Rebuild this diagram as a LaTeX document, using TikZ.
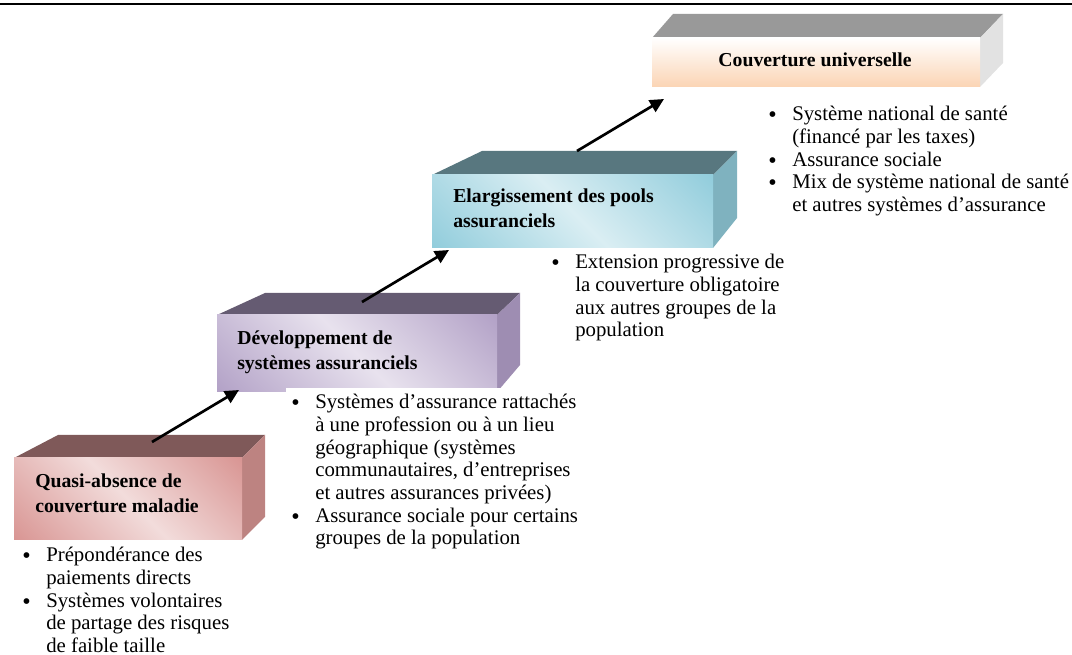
\documentclass[tikz,border=0pt]{standalone}
\usepackage{fontspec}
\setmainfont{Liberation Serif}
\usetikzlibrary{arrows.meta}
% Couleurs des blocs
\definecolor{roseC}{HTML}{F2DCDB}
\definecolor{roseF}{HTML}{D99694}
\definecolor{roseH}{HTML}{7F5959}
\definecolor{roseD}{HTML}{BD8381}
\definecolor{violetC}{HTML}{E8E2EE}
\definecolor{violetF}{HTML}{B3A2C7}
\definecolor{violetH}{HTML}{655B72}
\definecolor{violetD}{HTML}{9E8DB2}
\definecolor{bleuC}{HTML}{DAEEF3}
\definecolor{bleuF}{HTML}{92CDDC}
\definecolor{bleuH}{HTML}{58777F}
\definecolor{bleuD}{HTML}{7FB2BF}
\definecolor{grisH}{HTML}{999999}
\definecolor{grisD}{HTML}{E2E2E2}
\definecolor{peche}{HTML}{FBD4B4}
% Degrades des faces avant
\pgfdeclarehorizontalshading{rose}{100bp}{color(0bp)=(roseF); color(15bp)=(roseF); color(50bp)=(roseC); color(85bp)=(roseF); color(100bp)=(roseF)}
\pgfdeclarehorizontalshading{violet}{100bp}{color(0bp)=(violetF); color(15bp)=(violetF); color(50bp)=(violetC); color(85bp)=(violetF); color(100bp)=(violetF)}
\pgfdeclarehorizontalshading{bleu}{100bp}{color(0bp)=(bleuF); color(15bp)=(bleuF); color(50bp)=(bleuC); color(85bp)=(bleuF); color(100bp)=(bleuF)}
\newcommand{\puce}{\raisebox{-1.3pt}{\fontsize{18}{17}\selectfont\textbullet}}
\begin{document}
\begin{tikzpicture}[x=0.75pt, y=-0.75pt,
  titre/.style={font=\bfseries\fontsize{14.8}{18.75}\selectfont, inner sep=0pt, anchor=base west},
  puces/.style={font=\fontsize{15.6}{17}\selectfont, inner sep=0pt, anchor=base west},
  fleche/.style={line width=2pt, -{Triangle[length=10.5pt, width=10pt]}}]
  \useasboundingbox (0,0) rectangle (1072,655);
  % Filet du haut
  \draw[line width=1.6pt] (0,4) -- (1072,4);
  % Bloc 1 - quasi-absence
  \fill[roseH] (14,458) -- (58,435) -- (265,435) -- (242,458) -- cycle;
  \fill[roseD] (242,458) -- (265,435) -- (265,517) -- (242,540) -- cycle;
  \shade[shading=rose, shading angle=45] (14,458) rectangle (242,540);
  % Bloc 2 - developpement
  \fill[violetH] (217,315) -- (265,293) -- (520,293) -- (497,315) -- cycle;
  \fill[violetD] (497,315) -- (520,293) -- (520,365) -- (497,392) -- cycle;
  \shade[shading=violet, shading angle=45] (217,315) rectangle (497,392);
  % Bloc 3 - elargissement
  \fill[bleuH] (432,175) -- (482,151) -- (737,151) -- (713,175) -- cycle;
  \fill[bleuD] (713,175) -- (737,151) -- (737,218) -- (713,248) -- cycle;
  \shade[shading=bleu, shading angle=45] (432,175) rectangle (713,248);
  % Bloc 4 - couverture universelle
  \fill[grisH] (652,38) -- (673,14) -- (1003,14) -- (980,38) -- cycle;
  \fill[grisD] (980,38) -- (1003,14) -- (1003,63) -- (980,87) -- cycle;
  \shade[top color=white, bottom color=peche] (652,38) rectangle (980,87);
  % Titres
  \node[titre] (t1) at (35,488) {\begin{tabular}[t]{@{}l@{}}Quasi-absence de\\couverture maladie\end{tabular}};
  \node[titre] (t2) at (237,345) {\begin{tabular}[t]{@{}l@{}}Développement de\\systèmes assuranciels\end{tabular}};
  \node[titre] (t3) at (453,203) {\begin{tabular}[t]{@{}l@{}}Elargissement des pools\\assuranciels\end{tabular}};
  \node[titre, anchor=base] (t4) at (815,67) {Couverture universelle};
  % Listes
  \node[puces] (l1) at (22,562) {\begin{tabular}[t]{@{}p{18pt}@{}l@{}}
    \puce & Prépondérance des\\
     & paiements directs\\
    \puce & Systèmes volontaires\\
     & de partage des risques\\
     & de faible taille
  \end{tabular}};
  \node[puces, fill=white, inner xsep=3.75pt, inner ysep=4pt] (l2) at (286,409) {\begin{tabular}[t]{@{}p{18pt}@{}l@{}}
    \puce & Systèmes d’assurance rattachés\\
     & à une profession ou à un lieu\\
     & géographique (systèmes\\
     & communautaires, d’entreprises\\
     & et autres assurances privées)\\
    \puce & Assurance sociale pour certains\\
     & groupes de la population
  \end{tabular}};
  \node[puces] (l3) at (551,269) {\begin{tabular}[t]{@{}p{18pt}@{}l@{}}
    \puce & Extension progressive de\\
     & la couverture obligatoire\\
     & aux autres groupes de la\\
     & population
  \end{tabular}};
  \node[puces] (l4) at (768,121) {\begin{tabular}[t]{@{}p{18pt}@{}l@{}}
    \puce & Système national de santé\\
     & (financé par les taxes)\\
    \puce & Assurance sociale\\
    \puce & Mix de système national de santé\\
     & et autres systèmes d’assurance
  \end{tabular}};
  % Fleches
  \coordinate (d1) at (152,442); \coordinate (f1) at (239,390);
  \coordinate (d2) at (362,302); \coordinate (f2) at (449,250);
  \coordinate (d3) at (577,151); \coordinate (f3) at (664,99);
  \draw[fleche] (d1) -- (f1);
  \draw[fleche] (d2) -- (f2);
  \draw[fleche] (d3) -- (f3);
\end{tikzpicture}
\end{document}
